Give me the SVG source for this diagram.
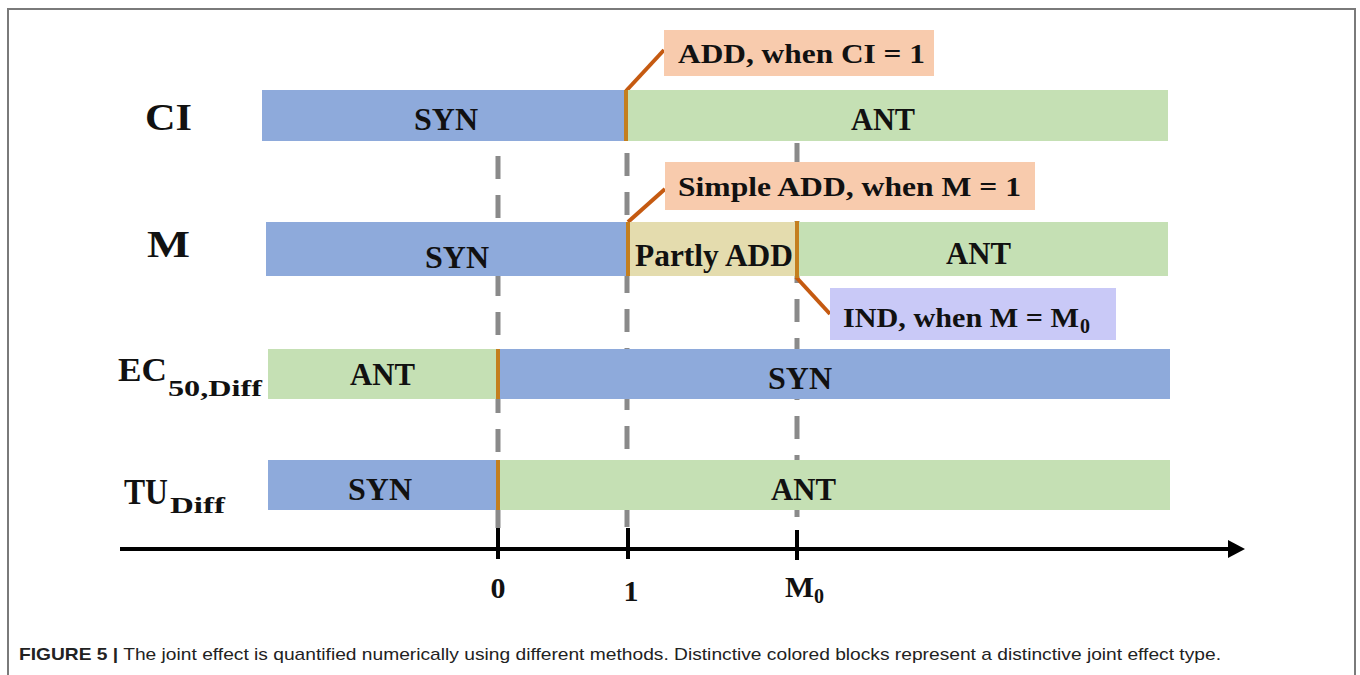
<svg xmlns="http://www.w3.org/2000/svg" width="1360" height="675" viewBox="0 0 1360 675">
<defs>
<style>
.frame{fill:none;stroke:#7a7a7a;stroke-width:2}
.blue{fill:#8eaadb}
.green{fill:#c5e0b4}
.yellow{fill:#e4dcae}
.call{fill:#f8cbad}
.lav{fill:#c9c9f7}
.div{stroke:#c47f1f;stroke-width:4}
.lead{stroke:#c55a11;stroke-width:4;fill:none}
.dash{stroke:#8a8a8a;stroke-width:5;stroke-dasharray:23 16}
.t{font-family:"Liberation Serif","Times New Roman",serif;font-weight:bold;fill:#111}
.bar{font-size:32px}
.ct{font-size:28px}
.lab{font-size:37px}
.sub{font-size:24px}
.ax{stroke:#000;stroke-width:4}
.cap{font-family:"Liberation Sans",Arial,sans-serif;font-size:17px;fill:#222}
</style>
</defs>
<rect width="1360" height="675" fill="#fff"/>
<path class="frame" d="M8,675 V9 H1355 V675"/>

<g id="connectors">
<line class="dash" x1="498" y1="156" x2="498" y2="528"/>
<line class="dash" x1="627" y1="153" x2="627" y2="528"/>
<line class="dash" x1="797" y1="143" x2="797" y2="530"/>
<line class="ax" x1="120" y1="549" x2="1230" y2="549"/>
<polygon points="1228,540 1245,549 1228,558" fill="#000"/>
<line class="ax" x1="498" y1="528" x2="498" y2="559"/>
<line class="ax" x1="628" y1="528" x2="628" y2="559"/>
<line class="ax" x1="797" y1="530" x2="797" y2="560"/>
<line class="lead" x1="626" y1="91" x2="664" y2="50"/>
<line class="lead" x1="628" y1="222" x2="665" y2="189"/>
<line class="lead" x1="796" y1="277" x2="830" y2="314"/>
</g>

<g id="row-ci">
<text class="t lab" x="145" y="130" textLength="47" lengthAdjust="spacingAndGlyphs">CI</text>
<rect class="blue" x="262" y="90" width="365" height="51"/>
<rect class="green" x="627" y="90" width="541" height="51"/>
<line class="div" x1="626" y1="90" x2="626" y2="141"/>
<text class="t bar" x="414" y="130" textLength="64" lengthAdjust="spacingAndGlyphs">SYN</text>
<text class="t bar" x="851" y="130" textLength="64" lengthAdjust="spacingAndGlyphs">ANT</text>
</g>

<g id="row-m">
<text class="t lab" x="147" y="257" textLength="43" lengthAdjust="spacingAndGlyphs">M</text>
<rect class="blue" x="266" y="222" width="361" height="54"/>
<rect class="yellow" x="627" y="222" width="170" height="54"/>
<rect class="green" x="797" y="222" width="371" height="54"/>
<line class="div" x1="628" y1="222" x2="628" y2="276"/>
<line class="div" x1="797" y1="221" x2="797" y2="278"/>
<text class="t bar" x="425" y="268" textLength="64" lengthAdjust="spacingAndGlyphs">SYN</text>
<text class="t bar" x="635" y="266" font-size="30" textLength="158" lengthAdjust="spacingAndGlyphs">Partly ADD</text>
<text class="t bar" x="946" y="264" textLength="65" lengthAdjust="spacingAndGlyphs">ANT</text>
</g>

<g id="row-ec">
<text class="t" x="118" y="381" font-size="34" textLength="49" lengthAdjust="spacingAndGlyphs">EC</text>
<text class="t sub" x="168" y="396" textLength="94" lengthAdjust="spacingAndGlyphs">50,Diff</text>
<rect class="green" x="268" y="349" width="230" height="50"/>
<rect class="blue" x="498" y="349" width="672" height="50"/>
<line class="div" x1="498" y1="349" x2="498" y2="399"/>
<text class="t bar" x="350" y="385" textLength="65" lengthAdjust="spacingAndGlyphs">ANT</text>
<text class="t bar" x="768" y="389" textLength="64" lengthAdjust="spacingAndGlyphs">SYN</text>
</g>

<g id="row-tu">
<text class="t" x="124" y="504" font-size="35" textLength="44" lengthAdjust="spacingAndGlyphs">TU</text>
<text class="t sub" x="170" y="513" textLength="55" lengthAdjust="spacingAndGlyphs">Diff</text>
<rect class="blue" x="268" y="460" width="230" height="50"/>
<rect class="green" x="498" y="460" width="672" height="50"/>
<line class="div" x1="498" y1="460" x2="498" y2="510"/>
<text class="t bar" x="348" y="500" textLength="64" lengthAdjust="spacingAndGlyphs">SYN</text>
<text class="t bar" x="771" y="500" textLength="65" lengthAdjust="spacingAndGlyphs">ANT</text>
</g>

<g id="callout-add">
<rect class="call" x="664" y="30" width="270" height="46"/>
<text class="t ct" x="678" y="63" textLength="247" lengthAdjust="spacingAndGlyphs">ADD, when CI = 1</text>
</g>

<g id="callout-simple">
<rect class="call" x="665" y="162" width="370" height="48"/>
<text class="t ct" x="678" y="196" textLength="343" lengthAdjust="spacingAndGlyphs">Simple ADD, when M = 1</text>
</g>

<g id="callout-ind">
<rect class="lav" x="830" y="288" width="286" height="52"/>
<text class="t ct" x="843" y="327" textLength="236" lengthAdjust="spacingAndGlyphs">IND, when M = M</text>
<text class="t" x="1080" y="333" font-size="20">0</text>
</g>

<g id="axis-labels">
<text class="t" x="498" y="598" font-size="30" text-anchor="middle">0</text>
<text class="t" x="631" y="601" font-size="30" text-anchor="middle">1</text>
<text class="t" x="785" y="597" font-size="30" textLength="29" lengthAdjust="spacingAndGlyphs">M</text>
<text class="t" x="814" y="603" font-size="20">0</text>
</g>

<text class="cap" x="19" y="660" textLength="1202" lengthAdjust="spacingAndGlyphs"><tspan font-weight="bold">FIGURE 5 |</tspan> The joint effect is quantified numerically using different methods. Distinctive colored blocks represent a distinctive joint effect type.</text>
</svg>
